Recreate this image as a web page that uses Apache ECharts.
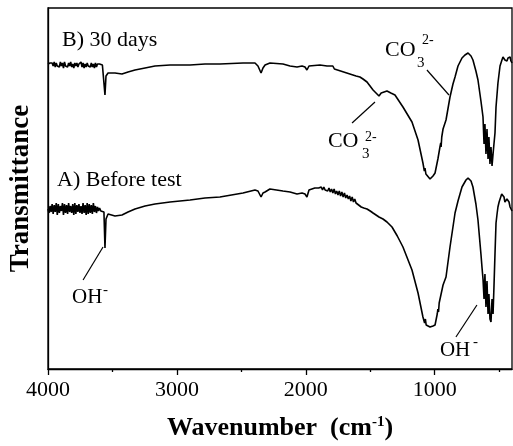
<!DOCTYPE html>
<html>
<head>
<meta charset="utf-8">
<script src="https://cdn.jsdelivr.net/npm/echarts@6/dist/echarts.min.js"></script>
<style>
html,body{margin:0;padding:0;background:#fff;}
#chart{width:513px;height:446px;}
</style>
</head>
<body>
<div id="chart"></div>
<script>
// Wavenumber axis (cm-1), reversed
const xMin = 400, xMax = 4000;
const majorTicks = [1000, 2000, 3000, 4000];
const minorTicks = [500, 1500, 2500, 3500];
const yMin = 0, yMax = 361; // transmittance, arbitrary units

// B) 30 days : [wavenumber, transmittance]
const traceB = [
[4000,305],[3992,303],[3984,306],[3976,304],[3968,306],[3960,303],[3952,307],[3944,302],[3936,306],[3928,303],
[3920,305],[3912,302],[3904,307],[3896,303],[3888,306],[3880,301],[3872,307],[3864,303],[3856,305],[3848,302],
[3840,306],[3832,303],[3824,307],[3816,302],[3808,305],[3800,301],[3792,306],[3784,303],[3776,306],[3768,302],
[3760,305],[3752,303],[3744,307],[3736,302],[3728,306],[3720,301],[3712,305],[3704,302],[3696,306],[3688,303],
[3680,305],[3672,302],[3664,306],[3656,302],[3648,305],[3640,301],[3632,306],[3624,302],[3616,305],[3608,303],
[3600,305],[3590,303],[3578,304],[3566,302],[3558,274],[3550,293],[3534,296],[3480,296],[3426,295],[3379,297],
[3325,299],[3247,301],[3170,303],[3053,304],[2898,304],[2782,305],[2666,305],[2487,306],[2394,306],[2371,303],
[2347,296],[2332,301],[2316,304],[2278,306],[2177,305],[2122,303],[2068,302],[2029,303],[2006,302],[1991,299],
[1975,303],[1960,305],[1890,304],[1835,303],[1812,303],[1800,301],[1790,303],[1778,300],[1766,302],[1754,299],
[1742,301],[1730,298],[1718,300],[1706,297],[1694,299],[1682,296],[1670,298],[1658,295],[1646,297],[1634,294],
[1622,296],[1610,293],[1598,294],[1580,292],[1556,290],[1525,287],[1478,279],[1455,276],[1432,273],[1415,276],
[1401,277],[1370,278],[1340,276],[1308,274],[1246,262],[1176,247],[1129,229],[1091,206],[1080,198],[1075,201],
[1068,195],[1060,194],[1036,190],[1013,193],[997,196],[975,210],[959,222],[953,226],[950,222],[945,232],
[935,240],[912,249],[881,272],[858,285],[842,292],[819,303],[788,311],[765,314],[741,316],[730,315],
[718,313],[703,309],[680,298],[664,289],[641,268],[625,252],[617,225],[610,245],[602,215],[594,240],
[586,210],[579,232],[571,205],[563,222],[555,203],[547,215],[540,225],[532,236],[524,262],[509,286],
[493,303],[478,309],[470,312],[462,313],[455,309],[447,307],[439,308],[431,311],[423,312],[415,312],
[408,308],[400,306]
];

// A) Before test : [wavenumber, transmittance]
const traceA = [
[4000,160],[3992,156],[3984,163],[3976,157],[3968,165],[3960,155],[3952,164],[3944,157],[3936,166],[3928,154],
[3920,165],[3912,156],[3904,163],[3896,158],[3888,166],[3880,154],[3872,165],[3864,156],[3856,164],[3848,155],
[3840,166],[3832,157],[3824,163],[3816,156],[3808,165],[3800,154],[3792,166],[3784,155],[3776,164],[3768,157],
[3760,165],[3752,156],[3744,163],[3736,155],[3728,166],[3720,156],[3712,164],[3704,154],[3696,166],[3688,155],
[3680,165],[3672,156],[3664,164],[3656,155],[3648,166],[3640,157],[3632,163],[3624,156],[3616,162],[3608,158],
[3600,161],[3590,158],[3578,159],[3566,157],[3558,121],[3550,150],[3534,155],[3480,153],[3426,154],[3379,157],
[3325,160],[3247,163],[3170,165],[3053,167],[2898,169],[2782,171],[2666,172],[2487,176],[2394,179],[2371,178],
[2347,172],[2332,176],[2316,177],[2278,180],[2177,178],[2122,177],[2068,175],[2029,176],[2006,175],[1991,172],
[1975,179],[1960,181],[1930,181],[1900,181],[1890,180],[1880,182],[1870,179],[1860,182],[1850,179],[1840,181],
[1830,178],[1820,181],[1810,177],[1800,180],[1790,176],[1780,180],[1770,175],[1760,178],[1750,174],[1740,178],
[1730,173],[1720,177],[1710,172],[1700,176],[1690,171],[1680,174],[1670,170],[1660,173],[1650,168],[1640,172],
[1630,167],[1620,170],[1610,166],[1600,168],[1590,164],[1580,166],[1570,162],[1560,164],[1550,161],[1540,163],
[1525,160],[1500,158],[1478,156],[1455,154],[1432,152],[1401,150],[1370,147],[1331,142],[1290,133],[1246,122],
[1176,99],[1129,76],[1091,52],[1078,46],[1072,50],[1066,44],[1060,44],[1036,42],[1013,43],[997,44],
[980,55],[975,60],[970,57],[965,66],[959,66],[935,84],[912,92],[881,122],[842,156],[819,168],
[788,182],[757,189],[741,191],[730,190],[718,188],[703,182],[680,165],[664,149],[641,115],[633,102],
[625,90],[617,70],[610,95],[602,62],[594,88],[586,55],[579,75],[571,50],[563,47],[555,70],
[547,55],[540,82],[532,115],[524,146],[516,155],[509,162],[500,167],[493,169],[480,175],[470,177],
[462,172],[455,167],[447,166],[439,170],[431,171],[423,167],[415,162],[408,160],[400,158]
];

// Annotation texts and anchors [wavenumber, transmittance] (left edge, vertical middle)
const noteTexts = ['B) 30 days','A) Before test','CO','3','2-','CO','3','2-','OH','-','OH','-'];
const noteAnchors = [[3891,329],[3930,189],[1385,319],[1137,306],[1098,329],[1828,227.5],[1564,215],[1541,231.5],[3814,72],[3574,79],[959,19],[703,27]];
const noteSizes = [22,22,22,15,14,22,15,14,21,15,21,15];

// Pointer lines [[from],[to]]
const pointerLines = [
  [[1060,299],[889,274]],
  [[1641,246],[1463,267]],
  [[3728,89],[3573,122]],
  [[835,32],[672,64]]
];

const FONT = '"Liberation Serif","Times New Roman",serif';

const chart = echarts.init(document.getElementById('chart'), null, {renderer:'canvas'});

const markPointData = noteTexts.map((t,i)=>({
  coord: noteAnchors[i],
  value: t,
  label: {show:true, formatter: t, fontSize: noteSizes[i]}
}));

chart.setOption({
  animation:false,
  backgroundColor:'#fff',
  grid:{left:48,right:1,top:8,bottom:77,show:true,borderColor:'#000',borderWidth:1.3,backgroundColor:'transparent'},
  xAxis:[{
    type:'value', min:xMin, max:xMax, inverse:true, position:'bottom',
    name:'Wavenumber  (cm{sup|-1})', nameLocation:'middle', nameGap:46,
    nameTextStyle:{fontFamily:FONT,fontSize:26,fontWeight:'bold',color:'#000',
      rich:{sup:{fontFamily:FONT,fontSize:15,fontWeight:'bold',color:'#000',verticalAlign:'top',lineHeight:14}}},
    axisLine:{show:true,lineStyle:{color:'#000',width:1.3}},
    axisTick:{show:true,inside:false,length:6,customValues:majorTicks,lineStyle:{color:'#000',width:1.3}},
    axisLabel:{show:true,customValues:majorTicks,margin:10,fontFamily:FONT,fontSize:22,color:'#000',
      formatter:v=>String(v)},
    splitLine:{show:false}
  },{
    type:'value', min:xMin, max:xMax, inverse:true, position:'bottom',
    axisLine:{show:false},
    axisTick:{show:true,inside:false,length:3,customValues:minorTicks,lineStyle:{color:'#000',width:1.3}},
    axisLabel:{show:false},
    splitLine:{show:false}
  }],
  yAxis:{
    type:'value', min:yMin, max:yMax,
    name:'Transmittance', nameLocation:'middle', nameGap:13,
    nameTextStyle:{fontFamily:FONT,fontSize:27,fontWeight:'bold',color:'#000'},
    axisLine:{show:true,lineStyle:{color:'#000',width:1.3}},
    axisTick:{show:false}, axisLabel:{show:false}, splitLine:{show:false}
  },
  series:[{
    name:'B) 30 days', type:'line', data:traceB, showSymbol:false, symbol:'none',
    lineStyle:{color:'#000',width:1.6}, silent:true
  },{
    name:'A) Before test', type:'line', data:traceA, showSymbol:false, symbol:'none',
    lineStyle:{color:'#000',width:1.6}, silent:true,
    markLine:{
      silent:true, symbol:['none','none'], animation:false,
      lineStyle:{color:'#000',width:1.2,type:'solid'},
      label:{show:false},
      data: pointerLines.map(p=>[{coord:p[0]},{coord:p[1]}])
    },
    markPoint:{
      silent:true, symbol:'circle', symbolSize:0, animation:false,
      itemStyle:{color:'transparent'},
      label:{show:true,position:'right',distance:0,color:'#000',fontFamily:FONT},
      data: markPointData
    }
  }]
});
</script>
</body>
</html>
